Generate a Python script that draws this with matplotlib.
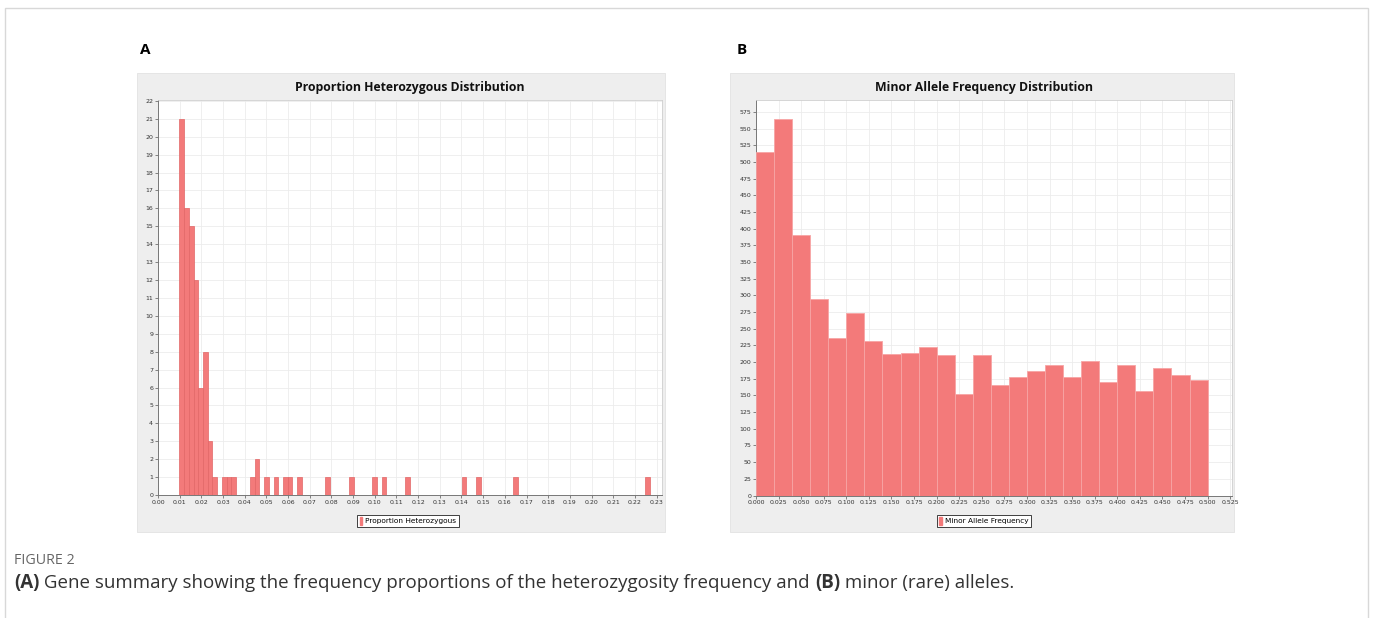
import numpy as np
import matplotlib
matplotlib.use("Agg")
import matplotlib.pyplot as plt
from matplotlib.patches import Rectangle, Patch

W, H = 1373, 618

# panel A: proportion heterozygous histogram (100 bins, only non-empty ones listed)
het_bin_start = 0.0099
het_bin_width = 0.00217
het_bins = [0, 1, 2, 3, 4, 5, 6, 7, 9, 10, 11, 15, 16, 18, 20, 22, 23, 25,
            31, 36, 41, 43, 48, 60, 63, 71, 99]
het_counts = [21, 16, 15, 12, 6, 8, 3, 1, 1, 1, 1, 1, 2, 1, 1, 1, 1, 1,
              1, 1, 1, 1, 1, 1, 1, 1, 1]
het_xticks = [i / 100 for i in range(24)]
het_yticks = list(range(23))

# panel B: minor allele frequency histogram
maf_bin_width = 0.02
maf_counts = [515, 565, 390, 295, 236, 273, 232, 212, 213, 223, 210, 152, 211,
              165, 178, 186, 195, 178, 202, 170, 196, 156, 191, 180, 173]
maf_xticks = [i * 0.025 for i in range(22)]
maf_yticks = list(range(0, 600, 25))

BAR = '#F37A7A'
CHART_BG = '#EEEEEE'


def box(x0, y0, x1, y1):
    # pixel box (top-left origin) -> figure fraction rect
    return [x0 / W, 1 - y1 / H, (x1 - x0) / W, (y1 - y0) / H]


fig = plt.figure(figsize=(W / 100, H / 100), dpi=100)

# outer frame of the figure
fig.patches.append(Rectangle((5 / W, -0.02), 1363 / W, 1 - 8 / H + 0.02,
                             transform=fig.transFigure, fill=False,
                             ec='#D8D8D8', lw=1, zorder=0))

# grey chart backgrounds
for b in [box(137, 73, 665, 532), box(730, 73, 1234, 532)]:
    fig.patches.append(Rectangle((b[0], b[1]), b[2], b[3], transform=fig.transFigure,
                                 fc=CHART_BG, ec='#E2E2E2', lw=0.6, zorder=0))


def style_axes(ax):
    ax.set_zorder(2)
    ax.set_facecolor('white')
    ax.grid(True, color='#ECECEC', lw=0.6, zorder=0)
    ax.set_axisbelow(True)
    for s in ['top', 'right']:
        ax.spines[s].set_color('#CFCFCF')
        ax.spines[s].set_linewidth(0.6)
    for s in ['left', 'bottom']:
        ax.spines[s].set_color('#777777')
        ax.spines[s].set_linewidth(0.7)
    ax.tick_params(labelsize=4.5, length=2, width=0.5, pad=1.5,
                   colors='#555555', labelcolor='#333333')


# ---- panel A
axA = fig.add_axes(box(158, 100, 662, 495))
het_left = het_bin_start + np.array(het_bins) * het_bin_width
axA.bar(het_left, het_counts, width=het_bin_width, align='edge',
        color=BAR, ec='#E26666', lw=0.5, zorder=3)
axA.set_xlim(0, 0.2325)
axA.set_ylim(0, 22.05)
axA.set_xticks(het_xticks)
axA.set_xticklabels(['%.2f' % t for t in het_xticks])
axA.set_yticks(het_yticks)
style_axes(axA)

# ---- panel B
axB = fig.add_axes(box(756, 100, 1232, 495.5))
maf_left = np.arange(len(maf_counts)) * maf_bin_width
axB.bar(maf_left, maf_counts, width=maf_bin_width, align='edge',
        color=BAR, ec='#F7A5A5', lw=0.6, zorder=3)
axB.set_xlim(0, 0.527)
axB.set_ylim(0, 593)
axB.set_xticks(maf_xticks)
axB.set_xticklabels(['%.3f' % t for t in maf_xticks])
axB.set_yticks(maf_yticks)
style_axes(axB)

# chart titles
fig.text(410 / W, 1 - 88 / H, 'Proportion Heterozygous Distribution',
         ha='center', va='center', family='Open Sans', fontweight='bold',
         fontsize=8.8, color='#111111', zorder=3)
fig.text(984 / W, 1 - 88 / H, 'Minor Allele Frequency Distribution',
         ha='center', va='center', family='Open Sans', fontweight='bold',
         fontsize=8.8, color='#111111', zorder=3)

# legends
for label, cx in [('Proportion Heterozygous', 408), ('Minor Allele Frequency', 984)]:
    leg = fig.legend(handles=[Patch(fc=BAR, ec=BAR)], labels=[label],
                     loc='center', bbox_to_anchor=(cx / W, 1 - 521 / H),
                     fontsize=5.3, frameon=True, fancybox=False,
                     edgecolor='#222222', facecolor='white', framealpha=1,
                     handlelength=0.35, handleheight=1.2, handletextpad=0.4,
                     borderpad=0.35, borderaxespad=0)
    leg.get_frame().set_linewidth(0.6)
    leg.set_zorder(3)

# panel letters
fig.text(140 / W, 1 - 50 / H, 'A', family='Open Sans', fontweight='bold',
         fontsize=11, ha='left', va='center')
fig.text(737 / W, 1 - 50 / H, 'B', family='Open Sans', fontweight='bold',
         fontsize=11, ha='left', va='center')

# caption
fig.text(14 / W, 1 - 561 / H, 'FIGURE 2', family='Open Sans', fontsize=10.3,
         color='#666666', ha='left', va='center')

renderer = fig.canvas.get_renderer()
pieces = [('(A)', 'bold'),
          (' Gene summary showing the frequency proportions of the heterozygosity frequency and ', 'normal'),
          ('(B)', 'bold'),
          (' minor (rare) alleles.', 'normal')]
x = 14 / W
for s, wt in pieces:
    t = fig.text(x, 1 - 583 / H, s, family='Open Sans', fontweight=wt,
                 fontsize=13.5, color='#333333', ha='left', va='center')
    x += t.get_window_extent(renderer).width / W

fig.savefig('out.png', dpi=100)
